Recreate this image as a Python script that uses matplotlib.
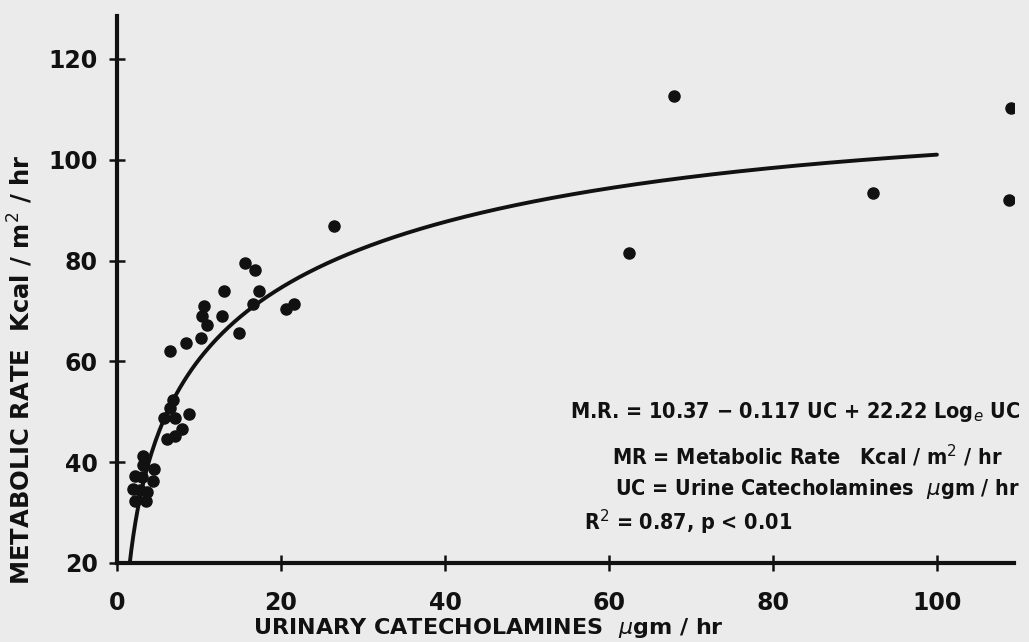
import numpy as np
import matplotlib
matplotlib.use("Agg")
import matplotlib.pyplot as plt

# urinary catecholamines (ug/hr) vs metabolic rate (Kcal/m2/hr)
uc = [26.5, 62.4, 67.9, 92.2, 108.8, 109.0,
      15.6, 16.8, 13.0, 17.3, 10.6, 16.6, 10.4, 20.6, 21.6, 12.8, 11.0, 14.9, 10.3,
      6.5, 8.4, 6.8, 6.5, 5.7, 7.1, 8.8, 7.9, 7.1, 6.1,
      3.2, 3.2, 4.5, 2.2, 3.0, 4.4, 2.0, 2.8, 3.6, 2.2, 3.5]
mr = [86.9, 81.5, 112.7, 93.3, 92.0, 110.3,
      79.5, 78.1, 74.0, 74.0, 71.0, 71.4, 69.0, 70.4, 71.4, 68.9, 67.2, 65.6, 64.6,
      62.1, 63.7, 52.3, 50.7, 48.7, 48.7, 49.6, 46.5, 45.1, 44.5,
      41.2, 39.4, 38.6, 37.3, 37.0, 36.3, 34.6, 34.5, 34.1, 32.2, 32.2]

# fitted regression: MR = a - b*UC + c*ln(UC)
a, b, c = 10.37, 0.117, 22.22
uc_fit = np.linspace(1.5, 100, 400)
mr_fit = a - b * uc_fit + c * np.log(uc_fit)

xticks = [0, 20, 40, 60, 80, 100]
yticks = [20, 40, 60, 80, 100, 120]

bg = "#ebebeb"
ink = "#111111"
fig = plt.figure(figsize=(10.29, 6.42), dpi=100, facecolor=bg)
ax = fig.add_axes([117 / 1029, 79 / 642, 897 / 1029, 547 / 642])
ax.set_facecolor(bg)

ax.plot(uc_fit, mr_fit, color=ink, lw=2.8, solid_capstyle="round")
ax.plot(uc, mr, "o", color=ink, ms=8, mec=ink)

ax.set_xlim(0, 109.4)
ax.set_ylim(20, 128.5)
ax.set_xticks(xticks)
ax.set_yticks(yticks)
for s in ["top", "right"]:
    ax.spines[s].set_visible(False)
for s in ["left", "bottom"]:
    ax.spines[s].set_linewidth(3)
    ax.spines[s].set_color(ink)
ax.tick_params(direction="inout", length=12, width=1.8, color=ink,
               labelsize=17)
ax.tick_params(axis="x", pad=14)
ax.tick_params(axis="y", pad=8)
for lab in ax.get_xticklabels() + ax.get_yticklabels():
    lab.set_fontweight("bold")
    lab.set_color(ink)

ax.set_xlabel(r"URINARY CATECHOLAMINES  $\mu$gm / hr", fontsize=16,
              fontweight="bold", color=ink)
ax.xaxis.set_label_coords(0.414, -0.097)
ax.set_ylabel("METABOLIC RATE  Kcal / m$^2$ / hr", fontsize=17.5,
              fontweight="bold", color=ink)
ax.yaxis.set_label_coords(-0.091, 0.353)

txt = dict(fontsize=15.5, fontweight="bold", color=ink, ha="right",
           va="center", fontstretch="condensed")
fig.text(1020 / 1029, 1 - 412 / 642,
         "M.R. = 10.37 \u2212 0.117 UC + 22.22 Log$_e$ UC", **txt)
fig.text(1003 / 1029, 1 - 456 / 642,
         "MR = Metabolic Rate   Kcal / m$^2$ / hr", **txt)
fig.text(1020 / 1029, 1 - 489 / 642,
         r"UC = Urine Catecholamines  $\mu$gm / hr", **txt)
fig.text(792 / 1029, 1 - 522 / 642,
         "R$^2$ = 0.87, p < 0.01", **txt)

fig.savefig("out.png", dpi=100, facecolor=bg)
